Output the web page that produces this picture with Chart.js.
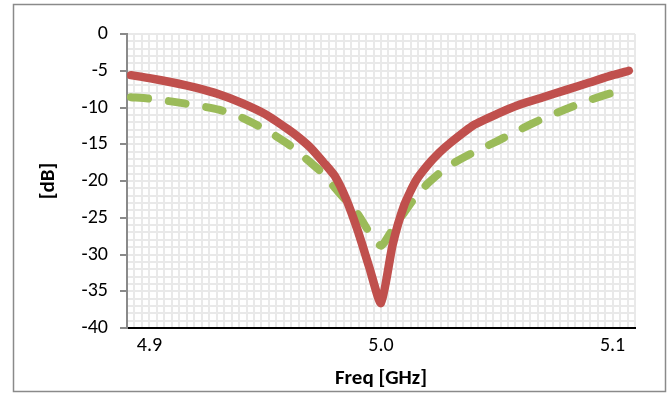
<!DOCTYPE html>
<html>
<head>
<meta charset="utf-8">
<script src="https://cdn.jsdelivr.net/npm/chart.js@4/dist/chart.umd.min.js"></script>
<style>
  html, body { margin: 0; padding: 0; background: #ffffff; }
  #wrap { width: 672px; height: 395px; }
</style>
</head>
<body>
<div id="wrap"><canvas id="c" width="672" height="395"></canvas></div>
<script>
// ---- data ----
const freqGHz = [4.892, 4.90, 4.91, 4.92, 4.93, 4.94, 4.95, 4.96, 4.965, 4.97, 4.975, 4.98, 4.985, 4.99, 4.995,
                 5.00, 5.005, 5.01, 5.015, 5.02, 5.025, 5.03, 5.04, 5.05, 5.06, 5.07, 5.08, 5.09, 5.10, 5.107];
const solidDb  = [-5.6, -6.0, -6.6, -7.3, -8.2, -9.4, -10.9, -13.0, -14.2, -15.6, -17.4, -19.3, -22.5, -26.8, -31.8,
                  -36.6, -28.7, -23.3, -20.0, -17.9, -16.2, -14.8, -12.4, -10.9, -9.6, -8.6, -7.6, -6.6, -5.6, -5.0];
const dashedDb = [-8.6, -8.8, -9.2, -9.7, -10.3, -11.4, -13.0, -15.0, -16.3, -17.6, -19.0, -20.9, -22.7, -24.5, -27.0,
                  -28.8, -26.6, -24.3, -22.1, -20.4, -19.0, -17.8, -16.1, -14.6, -13.0, -11.5, -10.2, -9.0, -8.0, -7.6];
const xTickLabels = ['4.9', '5.0', '5.1'];
const yMin = -40, yMax = 0, yMajor = 5;
const xTitle = 'Freq [GHz]';
const yTitle = '[dB]';

// ---- scale helpers ----
const xStep = 0.1 / 31;            // minor grid spacing
const xMin = 4.9 - 3 * xStep;
const xNTicks = 68;
const xMax = xMin + xNTicks * xStep;

const font = 'Carlito, Calibri, Lato, "Open Sans", sans-serif';

const frame = {
  id: 'frame',
  afterDraw(chart) {
    const ctx = chart.ctx;
    ctx.save();
    ctx.strokeStyle = '#8a8a8a';
    ctx.lineWidth = 1.5;
    ctx.strokeRect(13.5, 4.5, 652, 387);
    ctx.restore();
  }
};

new Chart(document.getElementById('c'), {
  type: 'line',
  data: {
    datasets: [
      {
        data: freqGHz.map((f, i) => ({ x: f, y: solidDb[i] })),
        borderColor: '#c0504d',
        borderWidth: 8.5,
        borderCapStyle: 'round',
        borderJoinStyle: 'round',
        pointRadius: 0,
        tension: 0.2
      },
      {
        data: freqGHz.map((f, i) => ({ x: f, y: dashedDb[i] })),
        borderColor: '#9bbb59',
        borderWidth: 8,
        borderDash: [17, 21],
        borderCapStyle: 'round',
        borderJoinStyle: 'round',
        pointRadius: 0,
        tension: 0.2
      }
    ]
  },
  options: {
    responsive: false,
    animation: false,
    devicePixelRatio: 1,
    layout: { padding: { left: 0, right: 37, top: 34, bottom: 0 } },
    plugins: { legend: { display: false }, tooltip: { enabled: false } },
    scales: {
      x: {
        type: 'linear',
        min: xMin,
        max: xMax,
        afterBuildTicks(scale) {
          const t = [];
          for (let k = 0; k <= xNTicks; k++) t.push({ value: xMin + k * xStep });
          scale.ticks = t;
        },
        afterFit(scale) { scale.height = 67; },
        ticks: {
          autoSkip: false,
          maxRotation: 0,
          padding: 6,
          color: '#000000',
          font: { family: font, size: 20 },
          callback(value, index) {
            const k = index - 3;
            return (k >= 0 && k % 31 === 0) ? xTickLabels[k / 31] : '';
          }
        },
        grid: { color: '#e9e9e9', lineWidth: 2, drawTicks: false },
        border: { color: '#000000', width: 2 },
        title: {
          display: true,
          text: xTitle,
          color: '#000000',
          font: { family: font, size: 21, weight: 'bold' },
          padding: { top: 0, bottom: 4 }
        }
      },
      y: {
        type: 'linear',
        min: yMin,
        max: yMax,
        afterFit(scale) { scale.width = 127; },
        ticks: {
          stepSize: 1,
          autoSkip: false,
          padding: 12,
          color: '#000000',
          font: { family: font, size: 20 },
          callback(value) { return (value % yMajor === 0) ? String(value) : ''; }
        },
        grid: {
          color: '#e9e9e9',
          lineWidth: 2,
          drawTicks: true,
          tickLength: 7,
          tickWidth: 2,
          tickColor(ctx) { return (ctx.tick && ctx.tick.value % yMajor === 0) ? '#8a8a8a' : 'rgba(0,0,0,0)'; }
        },
        border: { color: '#8a8a8a', width: 2 },
        title: {
          display: true,
          text: yTitle,
          color: '#000000',
          font: { family: font, size: 21, weight: 'bold' },
          padding: { top: 36, bottom: 0 }
        }
      }
    }
  },
  plugins: [frame]
});
</script>
</body>
</html>
